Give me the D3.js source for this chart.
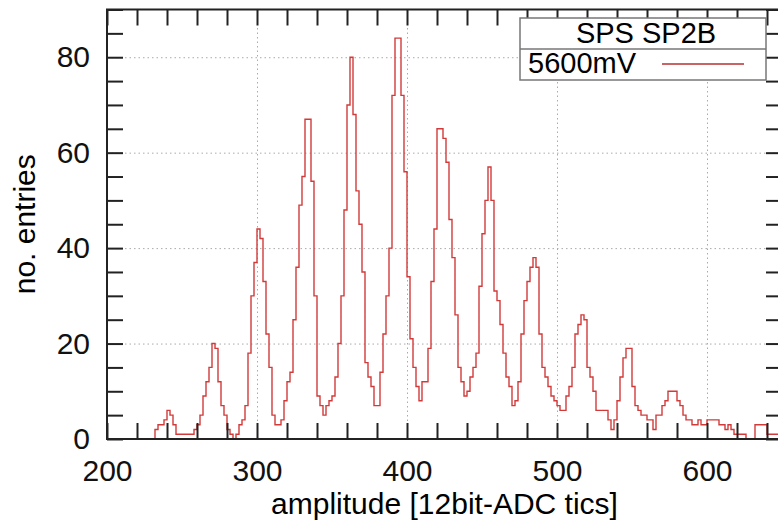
<!DOCTYPE html>
<html>
<head>
<meta charset="utf-8">
<script src="https://cdn.jsdelivr.net/npm/d3@7"></script>
<style>
  html, body { margin: 0; padding: 0; background: #fff; }
  svg { display: block; font-family: "Liberation Sans", Arial, sans-serif; }
  .tick line { stroke: #222; stroke-width: 2; }
  .tick text { font-size: 30px; fill: #111; }
  .grid .tick line { stroke: #aaa; stroke-width: 1; stroke-dasharray: 1.5 3; }
  .domain { display: none; }
</style>
</head>
<body>
<div id="chart"></div>
<script>
const width = 778;
const height = 522;
const margin = { top: 9.5, right: -4, bottom: 83, left: 107 };

// histogram of amplitudes, bins of 2 ADC tics starting at 232
const binStart = 232;
const binWidth = 2;
const counts = [
  2, 3, 3, 4, 6, 5, 3, 1, 1,
  1, 1, 1, 1, 2, 3, 5, 9, 12, 15,
  20, 19, 12, 7, 5, 2, 1, 0, 1, 3,
  4, 7, 18, 30, 37, 44, 42, 33, 22, 15,
  5, 3, 3, 4, 8, 12, 14, 25, 36, 49,
  55, 67, 67, 54, 30, 9, 7, 5, 7, 8,
  9, 13, 20, 30, 48, 70, 80, 68, 52, 45,
  35, 16, 13, 11, 7, 7, 14, 22, 30, 40,
  72, 84, 84, 72, 56, 34, 21, 15, 11, 8,
  12, 12, 19, 33, 44, 65, 65, 63, 58, 46,
  38, 26, 15, 12, 9, 10, 13, 15, 18, 32,
  43, 50, 57, 50, 31, 29, 24, 18, 13, 11,
  7, 8, 12, 22, 29, 33, 36, 38, 36, 22,
  15, 13, 11, 9, 8, 7, 6, 6, 9, 11,
  15, 22, 24, 26, 25, 15, 13, 10, 6, 6,
  6, 6, 4, 2, 4, 8, 13, 17, 19, 19,
  11, 7, 6, 5, 5, 4, 4, 2, 5, 5,
  7, 8, 10, 10, 10, 8, 7, 5, 4, 4,
  3, 3, 4, 3, 3, 4, 4, 4, 4, 3,
  3, 2, 3, 2, 1, 1, 1, 1, 0, 0,
  0, 3, 3, 3, 3, 1, 1, 1, 1, 1,
];

const xTicks = [200, 220, 240, 260, 280, 300, 320, 340, 360, 380, 400, 420, 440, 460, 480, 500, 520, 540, 560, 580, 600, 620, 640];
const xLabels = [200, 300, 400, 500, 600];
const yTicks = [0, 5, 10, 15, 20, 25, 30, 35, 40, 45, 50, 55, 60, 65, 70, 75, 80, 85, 90];
const yLabels = [0, 20, 40, 60, 80];

const legendTitle = "SPS SP2B";
const seriesName = "5600mV";

const svg = d3
  .select("#chart")
  .append("svg")
  .attr("width", width)
  .attr("height", height)
  .attr("viewBox", `0 0 ${width} ${height}`);

const plotWidth = width - margin.left - margin.right;
const plotHeight = height - margin.top - margin.bottom;

const g = svg
  .append("g")
  .attr("transform", `translate(${margin.left},${margin.top})`);

const x = d3.scaleLinear().domain([200, 650]).range([0, plotWidth]);
const y = d3.scaleLinear().domain([0, 90]).range([plotHeight, 0]);

// dotted grid at the labelled ticks
g.append("g")
  .attr("class", "grid")
  .attr("transform", `translate(0,${plotHeight})`)
  .call(d3.axisBottom(x).tickValues(xLabels.filter((d) => d > 200)).tickSize(-plotHeight).tickFormat(""));

g.append("g")
  .attr("class", "grid")
  .call(d3.axisLeft(y).tickValues(yLabels.filter((d) => d > 0)).tickSize(-plotWidth).tickFormat(""));

g.append("defs")
  .append("clipPath")
  .attr("id", "plot-clip")
  .append("rect")
  .attr("width", plotWidth)
  .attr("height", plotHeight);

const points = [{ a: binStart, n: 0 }]
  .concat(counts.map((n, i) => ({ a: binStart + i * binWidth, n })))
  .concat([{ a: binStart + counts.length * binWidth, n: counts[counts.length - 1] }]);

const step = d3
  .line()
  .curve(d3.curveStepAfter)
  .x((d) => x(d.a))
  .y((d) => y(d.n));

g.append("path")
  .datum(points)
  .attr("clip-path", "url(#plot-clip)")
  .attr("fill", "none")
  .attr("stroke", "#d23a3a")
  .attr("stroke-width", 1.4)
  .attr("d", step);

// legend box
const lg = svg.append("g").attr("transform", "translate(520,18)");
lg.append("rect")
  .attr("width", 246)
  .attr("height", 62)
  .attr("fill", "#fff")
  .attr("stroke", "#777")
  .attr("stroke-width", 1.5);
lg.append("line")
  .attr("x1", 0)
  .attr("x2", 246)
  .attr("y1", 31)
  .attr("y2", 31)
  .attr("stroke", "#777")
  .attr("stroke-width", 1.5);
lg.append("text")
  .attr("x", 126)
  .attr("y", 25)
  .attr("text-anchor", "middle")
  .attr("font-size", 29)
  .text(legendTitle);
lg.append("text")
  .attr("x", 8)
  .attr("y", 55)
  .attr("font-size", 29)
  .text(seriesName);
lg.append("line")
  .attr("x1", 142)
  .attr("x2", 224)
  .attr("y1", 46)
  .attr("y2", 46)
  .attr("stroke", "#c86464")
  .attr("stroke-width", 2);

// inward ticks on all four sides
g.append("g")
  .attr("transform", `translate(0,${plotHeight})`)
  .call(
    d3.axisBottom(x)
      .tickValues(xTicks)
      .tickSize(-16)
      .tickPadding(21)
      .tickFormat((d) => (xLabels.includes(d) ? d : "")),
  );

g.append("g").call(d3.axisTop(x).tickValues(xTicks).tickSize(-16).tickFormat(""));

g.append("g").call(
  d3.axisLeft(y)
    .tickValues(yTicks)
    .tickSize(-16)
    .tickPadding(17)
    .tickFormat((d) => (yLabels.includes(d) ? d : "")),
);

g.append("g")
  .attr("transform", `translate(${plotWidth},0)`)
  .call(d3.axisRight(y).tickValues(yTicks).tickSize(-16).tickFormat(""));

g.append("rect")
  .attr("width", plotWidth)
  .attr("height", plotHeight)
  .attr("fill", "none")
  .attr("stroke", "#222")
  .attr("stroke-width", 2);

svg.append("text")
  .attr("x", margin.left + (x(650) - x(200)) / 2)
  .attr("y", 514)
  .attr("text-anchor", "middle")
  .attr("font-size", 30)
  .text("amplitude [12bit-ADC tics]");

svg.append("text")
  .attr("transform", `translate(35,${margin.top + plotHeight / 2}) rotate(-90)`)
  .attr("text-anchor", "middle")
  .attr("font-size", 30)
  .text("no. entries");
</script>
</body>
</html>
